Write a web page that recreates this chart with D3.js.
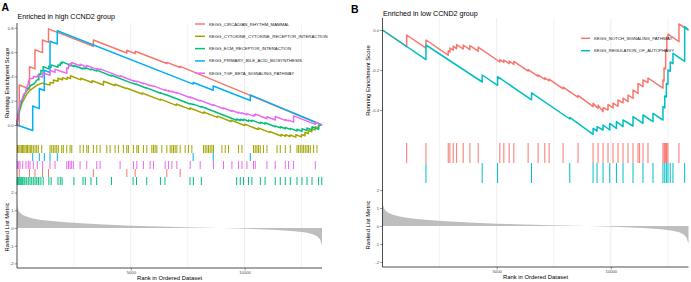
<!DOCTYPE html>
<html><head><meta charset="utf-8">
<script src="https://cdn.jsdelivr.net/npm/d3@7"></script>
<style>body{margin:0;background:#fff}svg{display:block;font-family:"Liberation Sans",Arial,Helvetica,sans-serif}</style>
</head><body><svg id="c" width="691" height="282"></svg>
<script>
// ---------------- DATA ----------------
const N = 13400;
const xTicks = [5000, 10000];
const gridTicks = [2500, 5000, 7500, 10000, 12500];
const metricRanks  = [0, 20, 60, 120, 250, 450, 700, 1000, 1400, 2000, 2800, 3800, 5000, 6200, 7400, 8400, 9400, 10400, 11400, 12200, 12700, 13000, 13200, 13320, 13400];
const metricValues = [1.4, 1.2, 1.0, 0.88, 0.74, 0.63, 0.54, 0.47, 0.41, 0.34, 0.27, 0.2, 0.13, 0.08, 0.04, 0.01, -0.02, -0.06, -0.11, -0.18, -0.26, -0.35, -0.48, -0.65, -1.0];
const metricTicks = [-2, -1, 0, 1, 2];

// Panel A
const titleA = "Enriched in high CCND2 group";
const esTicksA = [0, 0.2, 0.4, 0.6, 0.8];
const namesA = ["KEGG_CIRCADIAN_RHYTHM_MAMMAL","KEGG_CYTOKINE_CYTOKINE_RECEPTOR_INTERACTION","KEGG_ECM_RECEPTOR_INTERACTION","KEGG_PRIMARY_BILE_ACID_BIOSYNTHESIS","KEGG_TGF_BETA_SIGNALING_PATHWAY"];
const colorsA = ["#F8766D","#A3A500","#00BF7D","#00B0F6","#E76BF3"];
const rugOrderA = [1, 3, 4, 0, 2]; // top to bottom

const esCircadian = [[0,0],[100,-0.007],[100,0.33],[550,0.297],[550,0.48],[790,0.462],[790,0.62],[1120,0.596],[1120,0.70],[1385,0.68],[1385,0.792],[3355,0.648],[3355,0.70],[4824,0.593],[4824,0.615],[5192,0.588],[5192,0.607],[6582,0.506],[6582,0.516],[7170,0.473],[7170,0.483],[13400,0]];
const esCytokine = [[0,0],[40,0.07],[120,0.12],[220,0.18],[330,0.22],[450,0.26],[600,0.29],[750,0.31],[900,0.33],[1100,0.345],[1300,0.335],[1450,0.33],[1450,0.35],[1600,0.345],[1600,0.37],[1800,0.36],[1800,0.385],[2000,0.372],[2000,0.39],[2200,0.376],[2200,0.393],[2350,0.382],[2350,0.405],[2800,0.372],[2800,0.385],[3300,0.35],[3300,0.365],[3800,0.33],[3800,0.36],[4300,0.325],[4300,0.335],[4800,0.3],[4800,0.305],[5500,0.255],[5500,0.263],[6300,0.205],[6300,0.213],[7000,0.162],[7000,0.173],[7600,0.129],[7600,0.14],[8200,0.096],[8200,0.107],[8800,0.063],[8800,0.073],[9400,0.029],[9400,0.04],[10000,-0.004],[10000,0.007],[10600,-0.037],[10600,-0.025],[11100,-0.061],[11100,-0.053],[11600,-0.09],[11600,-0.078],[11800,-0.093],[11800,-0.08],[12000,-0.095],[12000,-0.082],[12250,-0.1],[12250,-0.08],[12500,-0.098],[12500,-0.078],[12650,-0.089],[12650,-0.06],[12800,-0.071],[12800,-0.045],[12950,-0.056],[12950,-0.03],[13100,-0.041],[13100,-0.015],[13250,-0.026],[13250,-0.005],[13400,0]];
const esEcm = [[0,0],[30,0.05],[80,0.1],[120,0.14],[200,0.19],[300,0.24],[380,0.27],[500,0.3],[600,0.325],[750,0.34],[900,0.375],[960,0.372],[960,0.42],[1050,0.415],[1050,0.45],[1150,0.445],[1150,0.48],[1400,0.462],[1400,0.485],[1500,0.478],[1500,0.495],[1800,0.475],[1800,0.495],[1900,0.49],[1900,0.51],[1980,0.505],[1980,0.52],[2500,0.482],[2500,0.49],[2900,0.461],[2900,0.47],[3000,0.463],[3000,0.472],[3250,0.454],[3250,0.462],[3500,0.444],[3500,0.452],[4150,0.404],[4150,0.41],[5100,0.341],[5100,0.344],[5250,0.333],[5250,0.336],[5700,0.303],[5700,0.306],[6300,0.262],[6300,0.265],[6500,0.25],[6500,0.253],[7600,0.173],[7600,0.178],[7750,0.167],[7750,0.172],[8100,0.147],[8100,0.152],[9650,0.039],[9650,0.049],[9810,0.037],[9810,0.047],[9950,0.037],[9950,0.047],[10170,0.031],[10170,0.041],[10320,0.03],[10320,0.04],[10690,0.013],[10690,0.023],[10900,0.008],[10900,0.018],[11346,-0.015],[11346,-0.008],[11567,-0.024],[11567,-0.015],[11787,-0.031],[11787,-0.02],[12007,-0.036],[12007,-0.028],[12301,-0.049],[12301,-0.035],[12521,-0.051],[12521,-0.03],[12741,-0.046],[12741,-0.025],[12961,-0.041],[12961,-0.015],[13251,-0.036],[13251,-0.005],[13400,0]];
const esBile = [[0,0],[690,-0.045],[690,0.156],[980,0.135],[980,0.30],[1200,0.284],[1200,0.45],[1450,0.432],[1450,0.69],[1770,0.667],[1770,0.776],[7740,0.337],[7740,0.35],[8620,0.286],[8620,0.321],[10250,0.202],[10250,0.247],[13400,0]];
const esTgf = [[0,0],[50,0.1],[100,0.15],[140,0.19],[230,0.215],[280,0.25],[390,0.27],[400,0.3],[480,0.33],[500,0.36],[570,0.38],[710,0.385],[720,0.40],[890,0.395],[900,0.41],[1010,0.40],[1130,0.395],[1130,0.43],[1275,0.42],[1451,0.41],[1451,0.45],[1671,0.435],[1671,0.46],[1891,0.445],[2186,0.425],[2186,0.47],[2260,0.465],[2260,0.49],[2330,0.485],[2330,0.505],[2400,0.5],[2400,0.515],[2771,0.488],[2771,0.5],[3065,0.478],[3065,0.49],[3505,0.458],[3505,0.466],[3650,0.455],[3650,0.462],[4530,0.398],[4530,0.405],[5115,0.362],[5115,0.367],[5265,0.356],[5265,0.361],[5555,0.34],[5555,0.345],[5850,0.323],[5850,0.328],[5995,0.317],[5995,0.322],[6509,0.285],[6509,0.29],[6654,0.279],[6654,0.284],[6804,0.273],[6804,0.278],[7024,0.262],[7024,0.267],[7609,0.224],[7609,0.23],[8048,0.198],[8048,0.203],[8633,0.16],[8633,0.166],[9073,0.134],[9073,0.14],[9442,0.113],[9442,0.12],[9733,0.099],[9733,0.105],[9882,0.094],[9882,0.1],[10102,0.084],[10102,0.094],[10392,0.073],[10392,0.083],[10467,0.078],[10467,0.09],[10981,0.052],[10981,0.068],[11346,0.041],[11346,0.07],[11787,0.038],[11787,0.045],[11932,0.034],[11932,0.04],[12152,0.024],[12152,0.075],[13106,0.005],[13106,0.02],[13400,0]];

const hitsCircadian = [100,550,790,1120,1385,3355,4824,5192,6582,7170];
const hitsCytokine = [22,79,132,189,242,299,352,409,462,528,585,647,717,792,866,937,1086,1451,1526,1597,1671,1746,1816,1966,2036,2186,2331,2406,2771,2916,3065,3136,3356,3505,3650,3945,4090,4310,4455,4675,4825,4895,5115,5265,5335,5555,5704,5924,5995,6069,6144,6364,6584,6729,6804,6874,6949,7024,7169,7389,7534,7683,8194,8268,8343,8413,8488,8563,8633,9003,9148,9293,9733,9882,10392,10467,10542,10612,10687,10832,10982,11422,11567,11787,12007,12301,12372,12446,12521,12592,12666,12741,12811,12886,13031,13180];
const hitsEcm = [13,57,101,163,207,251,308,352,427,497,572,647,717,792,866,937,960,1050,1150,1400,1500,1800,1900,1980,2500,2900,3000,3250,3500,4150,5100,5250,5700,6300,6500,7600,7750,8100,9650,9810,9950,10170,10320,10690,10900,11346,11567,11787,12007,12301,12521,12741,12961,13251,13390];
const hitsBile = [690,980,1200,1450,1770,7740,8620,10250];
const hitsTgf = [13,75,132,251,396,497,572,717,893,1130,1451,1671,2186,2260,2330,2400,2476,2771,3065,3505,3650,4530,5115,5265,5555,5850,5995,6509,6654,6804,7024,7609,8048,8633,9073,9442,9733,9882,10102,10392,10467,10981,11346,11787,11932,12152,13106];

// Panel B
const titleB = "Enriched in low CCND2 group";
const esTicksB = [-0.4, -0.2, 0];
const namesB = ["KEGG_NOTCH_SIGNALING_PATHWAY","KEGG_REGULATION_OF_AUTOPHAGY"];
const colorsB = ["#F8766D","#00BFC4"];
const rugOrderB = [0, 1];
const esNotch = [[0,0],[1059,-0.083],[1059,-0.025],[1903,-0.091],[1903,-0.05],[2878,-0.126],[2878,-0.104],[2952,-0.11],[2952,-0.09],[3097,-0.101],[3097,-0.081],[3246,-0.093],[3246,-0.073],[3534,-0.095],[3534,-0.075],[3827,-0.098],[3827,-0.078],[4190,-0.106],[4190,-0.086],[5139,-0.16],[5139,-0.148],[5314,-0.162],[5314,-0.15],[5546,-0.168],[5546,-0.156],[5752,-0.172],[5752,-0.157],[6377,-0.206],[6377,-0.198],[6815,-0.232],[6815,-0.224],[7108,-0.247],[7108,-0.239],[7296,-0.254],[7296,-0.246],[7908,-0.294],[7908,-0.286],[8564,-0.337],[8564,-0.327],[9221,-0.383],[9221,-0.366],[9440,-0.392],[9440,-0.376],[9658,-0.408],[9658,-0.388],[9876,-0.40],[9876,-0.372],[10095,-0.39],[10095,-0.365],[10314,-0.382],[10314,-0.35],[10533,-0.364],[10533,-0.34],[10751,-0.358],[10751,-0.325],[10970,-0.342],[10970,-0.30],[11189,-0.317],[11189,-0.267],[11407,-0.283],[11407,-0.25],[11626,-0.263],[11626,-0.24],[12282,-0.291],[12282,-0.25],[12330,-0.255],[12330,-0.19],[12400,-0.195],[12400,-0.10],[12450,-0.104],[12450,-0.035],[12501,-0.04],[12501,-0.02],[12982,-0.058],[12982,0.03],[13400,0]];
const esAutophagy = [[0,0],[1903,-0.148],[1903,-0.075],[4365,-0.26],[4365,-0.225],[5039,-0.277],[5039,-0.233],[6526,-0.349],[6526,-0.314],[8201,-0.445],[8201,-0.437],[9221,-0.522],[9221,-0.492],[9396,-0.505],[9396,-0.483],[9658,-0.50],[9658,-0.475],[9951,-0.50],[9951,-0.467],[10244,-0.492],[10244,-0.458],[10533,-0.483],[10533,-0.45],[10970,-0.48],[10970,-0.433],[11407,-0.467],[11407,-0.425],[11845,-0.458],[11845,-0.417],[12282,-0.45],[12282,-0.383],[12360,-0.39],[12360,-0.33],[12430,-0.335],[12430,-0.267],[12501,-0.272],[12501,-0.20],[12600,-0.207],[12600,-0.16],[12720,-0.168],[12720,-0.117],[13231,-0.157],[13231,0.017],[13400,0]];
const hitsNotch = [1059,1903,2878,2952,3097,3246,3534,3827,4190,5139,5314,5546,5752,6377,6815,7108,7296,7908,8564,9221,9440,9658,9876,10095,10314,10533,10751,10970,11189,11260,11407,11626,12282,12330,12360,12400,12430,12450,12501,12982];
const hitsAutophagy = [1903,4365,5039,6526,8201,9221,9396,9658,9951,10244,10533,10970,11407,11845,12282,12360,12430,12501,12600,12720,13231];

// ---------------- DRAW ----------------
const svg = d3.select("#c");
const FONT = '"Liberation Sans",Arial,Helvetica,sans-serif';

function panel(o) {
  const g = svg.append("g");
  const x = d3.scaleLinear().domain([0, N]).range([o.x0, o.x1]);
  const yES = d3.scaleLinear().domain(o.esDomain).range([o.esBottom, o.esTop]);
  const yM = d3.scaleLinear().domain([-o.mLim, o.mLim]).range([o.mBottom, o.mTop]);

  g.append("g").selectAll("line").data(gridTicks).join("line")
    .attr("x1", d => x(d)).attr("x2", d => x(d))
    .attr("y1", o.esTop).attr("y2", o.mBottom)
    .attr("stroke", "#EBEBEB").attr("stroke-width", d => d % 5000 === 0 ? 0.9 : 0.6);

  const area = d3.area().x((d, i) => x(metricRanks[i])).y0(yM(0)).y1(d => yM(d));
  g.append("path").datum(metricValues).attr("d", area).attr("fill", "#BEBEBE");

  o.rugOrder.forEach((si, row) => {
    const y0 = o.rugTop + row * o.rugH;
    g.append("g").selectAll("line").data(o.hits[si]).join("line")
      .attr("x1", d => x(d)).attr("x2", d => x(d))
      .attr("y1", y0).attr("y2", y0 + o.rugH)
      .attr("stroke", o.colors[si]).attr("stroke-width", 1);
  });

  const line = d3.line().x(d => x(d[0])).y(d => yES(d[1]));
  o.es.forEach((s, i) => {
    g.append("path").datum(s).attr("d", line).attr("fill", "none")
      .attr("stroke", o.colors[i]).attr("stroke-width", 1.5).attr("stroke-linejoin", "round");
  });

  const styleAxis = sel => {
    sel.select(".domain").remove();
    sel.selectAll(".tick line").attr("stroke", "#333").attr("stroke-width", 0.5);
    sel.selectAll(".tick text").attr("fill", "#4D4D4D").attr("font-size", 4.2).attr("font-family", FONT);
  };
  g.append("g").attr("transform", `translate(${o.x0},0)`)
    .call(d3.axisLeft(yES).tickValues(o.esTicks).tickFormat(d => d.toFixed(1)).tickSize(2.5).tickPadding(1))
    .call(styleAxis);
  g.append("g").attr("transform", `translate(${o.x0},0)`)
    .call(d3.axisLeft(yM).tickValues(metricTicks).tickFormat(d => String(d)).tickSize(2.5).tickPadding(1))
    .call(styleAxis);
  g.append("g").attr("transform", `translate(0,${o.mBottom})`)
    .call(d3.axisBottom(x).tickValues(xTicks).tickFormat(d => String(d)).tickSize(2.5).tickPadding(0.8))
    .call(styleAxis);

  g.append("line").attr("x1", o.x0).attr("x2", o.x0).attr("y1", o.esTop).attr("y2", o.mBottom)
    .attr("stroke", "#222").attr("stroke-width", 0.8);
  g.append("line").attr("x1", o.x0).attr("x2", o.x1).attr("y1", o.mBottom).attr("y2", o.mBottom)
    .attr("stroke", "#222").attr("stroke-width", 0.8);

  g.append("text").attr("x", o.letterX).attr("y", o.letterY).text(o.letter)
    .attr("font-size", 10.5).attr("font-weight", "bold").attr("fill", "#000");
  g.append("text").attr("x", o.x0 + 0.5).attr("y", o.titleY).text(o.title)
    .attr("font-size", 7.1).attr("fill", "#000");
  g.append("text").attr("transform", `translate(${o.yTitleX},${(o.esTop + o.esBottom) / 2 + 0.5}) rotate(-90)`)
    .attr("text-anchor", "middle").attr("font-size", 5.9).attr("fill", "#000").text("Running Enrichment Score");
  g.append("text").attr("transform", `translate(${o.yTitleX},${yM(0) - 1}) rotate(-90)`)
    .attr("text-anchor", "middle").attr("font-size", 5.9).attr("fill", "#000").text("Ranked List Metric");
  g.append("text").attr("x", (o.x0 + o.x1) / 2).attr("y", o.xTitleY).attr("text-anchor", "middle")
    .attr("font-size", 5.9).attr("fill", "#000").text("Rank in Ordered Dataset");

  o.names.forEach((nm, i) => {
    const ly = o.legY + i * o.legStep;
    g.append("line").attr("x1", o.legX).attr("x2", o.legX + o.legLen).attr("y1", ly).attr("y2", ly)
      .attr("stroke", o.colors[i]).attr("stroke-width", 1.5);
    g.append("text").attr("x", o.legX + o.legLen + 4).attr("y", ly).attr("dy", "0.35em")
      .attr("font-size", 4.3).attr("fill", "#1a1a1a").text(nm);
  });
}

panel({
  x0: 17, x1: 322, esDomain: [-0.14, 0.84], esTop: 23, esBottom: 142,
  rugTop: 145, rugH: 8, mLim: 2.26, mTop: 188, mBottom: 268,
  esTicks: esTicksA, colors: colorsA, names: namesA,
  es: [esCircadian, esCytokine, esEcm, esBile, esTgf],
  hits: [hitsCircadian, hitsCytokine, hitsEcm, hitsBile, hitsTgf], rugOrder: rugOrderA,
  letter: "A", letterX: 1.5, letterY: 10.5, title: titleA, titleY: 18.8,
  yTitleX: 9.2, xTitleY: 280.4,
  legX: 195, legLen: 10, legY: 24, legStep: 12.3
});
panel({
  x0: 382.5, x1: 688.5, esDomain: [-0.56, 0.06], esTop: 18, esBottom: 142,
  rugTop: 143, rugH: 20, mLim: 2.28, mTop: 185, mBottom: 267,
  esTicks: esTicksB, colors: colorsB, names: namesB,
  es: [esNotch, esAutophagy],
  hits: [hitsNotch, hitsAutophagy], rugOrder: rugOrderB,
  letter: "B", letterX: 351, letterY: 13, title: titleB, titleY: 15.8,
  yTitleX: 369.8, xTitleY: 279.2,
  legX: 581, legLen: 9, legY: 38.3, legStep: 12.4
});
</script></body></html>
